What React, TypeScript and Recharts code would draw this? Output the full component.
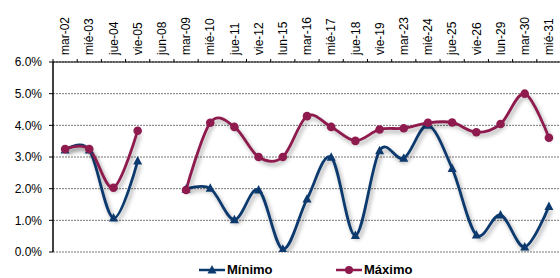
import React from 'react';
import { LineChart, Line, XAxis, YAxis, CartesianGrid, Legend } from 'recharts';

const categories = ['mar-02','mié-03','jue-04','vie-05','jun-08','mar-09','mié-10','jue-11','vie-12','lun-15','mar-16','mié-17','jue-18','vie-19','mar-23','mié-24','jue-25','vie-26','lun-29','mar-30','mié-31'];
const minimo: (number | null)[] = [3.22,3.22,1.07,2.87,null,1.98,2.01,1.02,1.96,0.09,1.67,2.99,0.52,3.2,2.96,4.0,2.64,0.54,1.17,0.16,1.44];
const maximo: (number | null)[] = [3.25,3.25,2.03,3.83,null,1.96,4.08,3.95,3.0,3.0,4.29,3.95,3.51,3.87,3.91,4.08,4.09,3.78,4.04,5.0,3.61];
const yTicks = [0,1,2,3,4,5,6];

const data = categories.map((c, i) => ({ cat: c, min: minimo[i], max: maximo[i] }));

const NAVY = '#0C3A6E';
const MAROON = '#8E1A4E';

const W = 570, H = 278;
const M = { top: 2, right: 9, bottom: 11, left: 0 };
const YW = 53;
const plotW = W - M.left - M.right - YW;
const step = plotW / categories.length;

function catmullRom(context: any) {
  const k = 1 / 6;
  let x0 = NaN, y0 = NaN, x1 = NaN, y1 = NaN, x2 = NaN, y2 = NaN, pt = 0;
  const seg = (x: number, y: number) => {
    context.bezierCurveTo(x1 + k * (x2 - x0), y1 + k * (y2 - y0), x2 + k * (x1 - x), y2 + k * (y1 - y), x2, y2);
  };
  return {
    areaStart() {},
    areaEnd() {},
    lineStart() { x0 = x1 = x2 = y0 = y1 = y2 = NaN; pt = 0; },
    lineEnd() {
      if (pt === 2) context.lineTo(x2, y2);
      else if (pt === 3) seg(x1, y1);
    },
    point(x: number, y: number) {
      x = +x; y = +y;
      if (pt === 0) { pt = 1; context.moveTo(x, y); }
      else if (pt === 1) { pt = 2; x1 = x; y1 = y; }
      else { pt = 3; seg(x, y); }
      x0 = x1; x1 = x2; x2 = x;
      y0 = y1; y1 = y2; y2 = y;
    },
  };
}

const XTick = (props: any) => {
  const { x, y, payload, index } = props;
  const axisY = y + 7;
  return (
    <g>
      <line x1={x - step / 2} x2={x - step / 2} y1={axisY} y2={axisY - 3} stroke="#000" strokeWidth={1} />
      {index === categories.length - 1 && (
        <line x1={x + step / 2} x2={x + step / 2} y1={axisY} y2={axisY - 3} stroke="#000" strokeWidth={1} />
      )}
      <text x={x} y={y} transform={`rotate(-90 ${x} ${y})`} textAnchor="start" dy="0.35em" fontSize={12} fill="#000" fontFamily="Liberation Sans, Arial, sans-serif">
        {payload.value}
      </text>
    </g>
  );
};

const TriDot = (props: any) => {
  const { cx, cy } = props;
  if (cx == null || cy == null || props.value == null) return null;
  return <polygon points={`${cx},${cy - 5} ${cx + 4.5},${cy + 3.5} ${cx - 4.5},${cy + 3.5}`} fill={NAVY} />;
};

const CircDot = (props: any) => {
  const { cx, cy } = props;
  if (cx == null || cy == null || props.value == null) return null;
  return <circle cx={cx} cy={cy} r={4.3} fill={MAROON} />;
};

const LegendContent = () => (
  <div style={{ display: 'flex', fontFamily: 'Liberation Sans, Arial, sans-serif', fontWeight: 'bold', fontSize: 13, color: '#000', lineHeight: '15px' }}>
    <div style={{ position: 'absolute', left: 199, display: 'flex', alignItems: 'center' }}>
      <svg width={26} height={12}>
        <line x1={0} x2={26} y1={6} y2={6} stroke={NAVY} strokeWidth={2.5} />
        <polygon points="13,1 17.5,9.5 8.5,9.5" fill={NAVY} />
      </svg>
      <span style={{ marginLeft: 2 }}>Mínimo</span>
    </div>
    <div style={{ position: 'absolute', left: 336, display: 'flex', alignItems: 'center' }}>
      <svg width={26} height={12}>
        <line x1={0} x2={26} y1={6} y2={6} stroke={MAROON} strokeWidth={2.5} />
        <circle cx={13} cy={6} r={4} fill={MAROON} />
      </svg>
      <span style={{ marginLeft: 2 }}>Máximo</span>
    </div>
  </div>
);

export default function App() {
  return (
    <div style={{ position: 'fixed', left: 0, top: 0, width: 560, height: 278, overflow: 'hidden', background: '#fff' }}>
      <style>{`.recharts-line-curve{filter:drop-shadow(2px 3px 2px rgba(0,0,0,0.35));}`}</style>
      <LineChart width={W} height={H} data={data} margin={M}>
        <CartesianGrid vertical={false} stroke="#777" strokeDasharray="2 1" />
        <XAxis dataKey="cat" orientation="top" height={60} interval={0} padding={{ left: step / 2, right: step / 2 }} tickLine={false} tick={<XTick />} tickMargin={0} tickSize={7} axisLine={{ stroke: '#000', strokeWidth: 1 }} />
        <YAxis width={YW} domain={[0, 6]} ticks={yTicks} tickFormatter={(v: number) => v.toFixed(1) + '%'} tickSize={4} tickMargin={7} tickLine={{ stroke: '#000' }} axisLine={{ stroke: '#000', strokeWidth: 1.5 }} tick={{ fontSize: 12, fill: '#000', fontFamily: 'Liberation Sans, Arial, sans-serif' }} allowDataOverflow />
        <Legend verticalAlign="bottom" content={<LegendContent />} wrapperStyle={{ height: 15, top: 262, bottom: 'auto', left: 0, width: 560 }} />
        <Line dataKey="min" name="Mínimo" type={catmullRom as any} stroke={NAVY} strokeWidth={2.8} dot={<TriDot />} activeDot={false} isAnimationActive={false} connectNulls={false} />
        <Line dataKey="max" name="Máximo" type={catmullRom as any} stroke={MAROON} strokeWidth={2.8} dot={<CircDot />} activeDot={false} isAnimationActive={false} connectNulls={false} />
      </LineChart>
    </div>
  );
}
